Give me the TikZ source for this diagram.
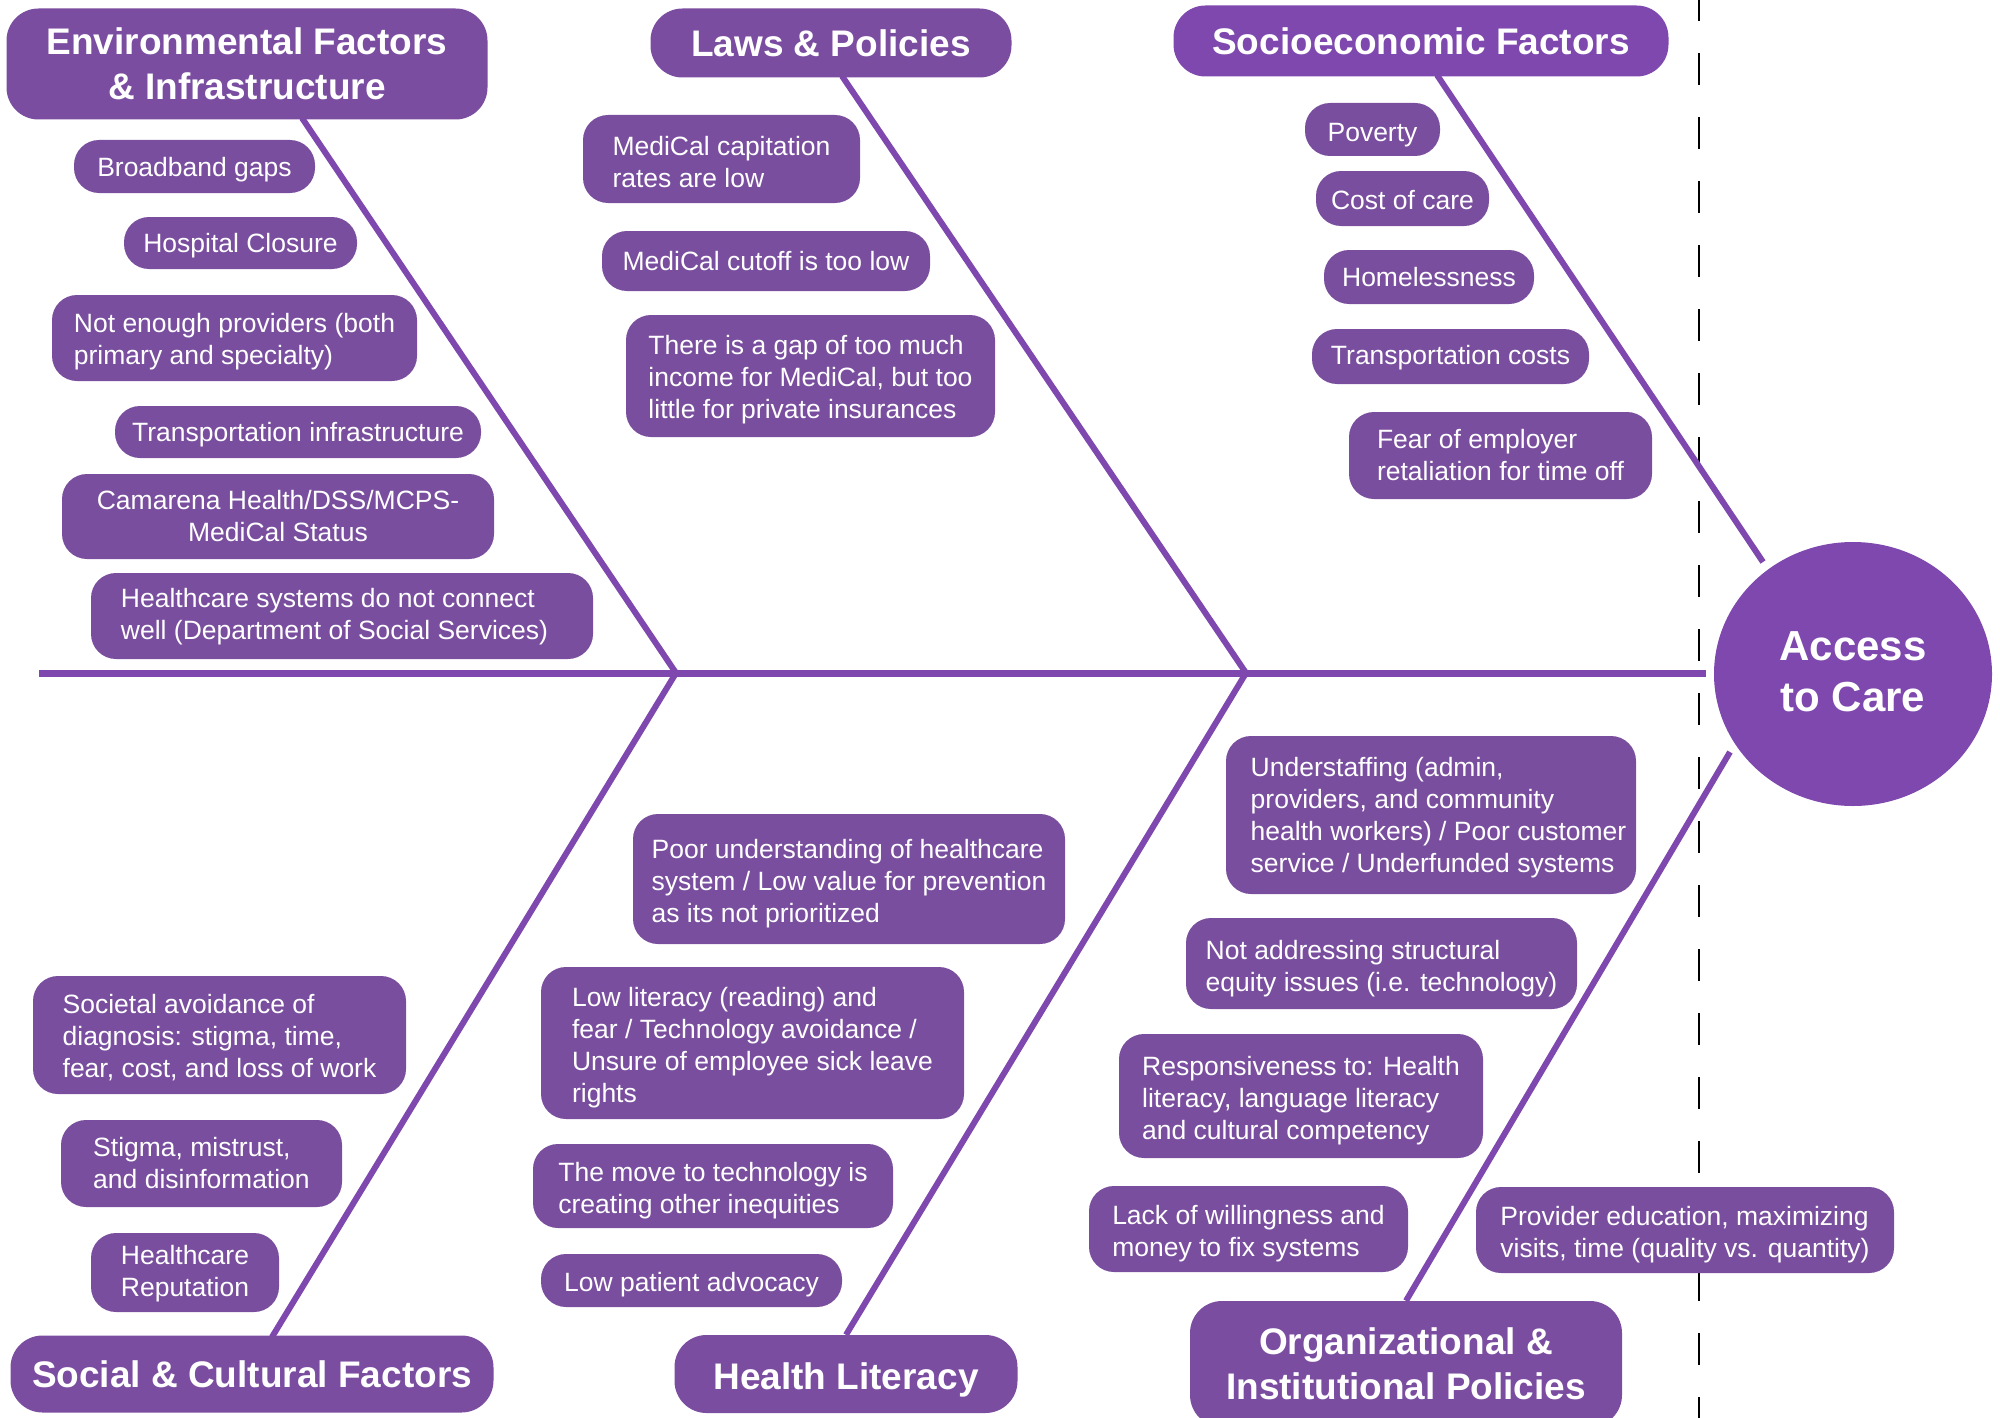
\documentclass[tikz,border=0pt]{standalone}
\usepackage{fontspec}
\setmainfont{Liberation Sans}
\usetikzlibrary{backgrounds,shapes.geometric}
\definecolor{itemc}{HTML}{7A4E9E}
\definecolor{headc}{HTML}{7B4DA1}
\definecolor{linec}{HTML}{7E48AE}
\newcommand\itemfont{\fontsize{26.5}{32}\selectfont}
\newcommand\headfont{\fontsize{37}{45}\selectfont\bfseries}
\newcommand\accfont{\fontsize{42}{51}\selectfont\bfseries}
% lowers the text of a box by #1 pt (strut on the first line)
\newcommand\dn[1]{\rule{0pt}{\dimexpr19.3pt+#1pt*2\relax}}
\newcommand\ind{\hspace*{15pt}}
\begin{document}
\begin{tikzpicture}[x=1pt,y=-1pt,
  sz/.style 2 args={minimum width=#1pt,minimum height=#2pt},
  item/.style={fill=itemc, rounded corners=25pt, text=white, align=left, inner sep=0pt, font=\itemfont},
  head/.style={fill=headc, rounded corners=32pt, text=white, align=center, inner sep=0pt, font=\headfont},
  bone/.style={draw=linec, line width=6pt},
  spine/.style={draw=linec, line width=7pt},
  guide/.style={draw=black, line width=2pt, dash pattern=on 32pt off 32pt}]
\useasboundingbox (0,0) rectangle (2000,1418);

% headers
\node[head, sz={481}{111}] (env) at (247,64) {Environmental Factors\\\& Infrastructure};
\node[head, sz={361}{69}] (laws) at (831,43) {Laws \& Policies};
\node[head, fill=linec, sz={495}{71}] (soc) at (1421,41) {Socioeconomic Factors};
\node[head, sz={483}{77}] (cult) at (252,1374) {Social \& Cultural Factors};
\node[head, sz={343}{78}] (hl) at (846,1374) {\rule{0pt}{39pt}Health Literacy};
\node[head, sz={432}{126}] (org) at (1406,1364) {Organizational \&\\Institutional Policies};
\node[ellipse, fill=linec, text=white, align=center, inner sep=0pt, sz={278}{264}, font=\accfont] (acc) at (1853,674) {Access\\to Care\rule[-5pt]{0pt}{5pt}};

% environmental items
\node[item, sz={241}{53}] (e1) at (194.5,166.5) {\dn{3}Broadband gaps};
\node[item, sz={233}{52}] (e2) at (240.5,243) {\dn{3}Hospital Closure};
\node[item, sz={365}{86}] (e3) at (234.5,338) {\dn{4}Not enough providers (both\\primary and specialty)};
\node[item, sz={366}{52}] (e4) at (298,432) {\dn{3}Transportation infrastructure};
\node[item, align=center, sz={432}{85}] (e5) at (278,516.5) {Camarena Health/DSS/MCPS-\\MediCal Status};
\node[item, sz={502}{86}] (e6) at (342,616) {\dn{1}Healthcare systems do not connect\\well (Department of Social Services)\hspace*{15pt}};

% laws items
\node[item, sz={277}{88}] (l1) at (721.5,159) {\dn{2.5}MediCal capitation\\rates are low};
\node[item, sz={328}{60}] (l2) at (766,261) {MediCal cutoff is too low};
\node[item, sz={369}{122}] (l3) at (810.5,376) {\dn{4}There is a gap of too much\\income for MediCal, but too\\little for private insurances};

% socioeconomic items
\node[item, sz={135}{53}] (s1) at (1372.5,129.5) {\dn{5}Poverty};
\node[item, sz={173}{55}] (s2) at (1402.5,198.5) {\dn{1.5}Cost of care};
\node[item, sz={210}{54}] (s3) at (1429,277) {Homelessness};
\node[item, sz={277}{55}] (s4) at (1450.5,356.5) {\dn{1.5}Transportation costs};
\node[item, sz={303}{87}] (s5) at (1500.5,455.5) {Fear of employer\\retaliation for time off};

% social & cultural items
\node[item, sz={373}{118}] (c1) at (219.5,1035) {\dn{2.5}Societal avoidance of\\diagnosis: stigma, time,\\fear, cost, and loss of work};
\node[item, sz={281}{87}] (c2) at (201.5,1163.5) {Stigma, mistrust,\\and disinformation};
\node[item, sz={188}{79}] (c3) at (185,1272.5) {\dn{1.5}Healthcare\\Reputation};

% health literacy items
\node[item, sz={432}{130}] (h1) at (849,879) {\dn{5}Poor understanding of healthcare\\system / Low value for prevention\\as its not prioritized};
\node[item, sz={423}{152}] (h2) at (752.5,1043) {\dn{5}Low literacy (reading) and\\fear / Technology avoidance /\\Unsure of employee sick leave\\rights};
\node[item, sz={360}{84}] (h3) at (713,1186) {\dn{5}The move to technology is\\creating other inequities};
\node[item, sz={301}{53}] (h4) at (691.5,1280.5) {\dn{4}Low patient advocacy};

% organizational items
\node[item, sz={410}{158}] (o1) at (1431,815) {\dn{2.5}\ind Understaffing (admin,\\\ind providers, and community\\\ind health workers) / Poor customer\\\ind service / Underfunded systems};
\node[item, sz={391}{91}] (o2) at (1381.5,963.5) {\dn{5}Not addressing structural\\equity issues (i.e. technology)};
\node[item, sz={364}{124}] (o3) at (1301,1096) {\dn{5}Responsiveness to: Health\\literacy, language literacy\\and cultural competency};
\node[item, sz={319}{86}] (o4) at (1248.5,1229) {\dn{5}Lack of willingness and\\money to fix systems};
\node[item, sz={418}{86}] (o5) at (1685,1230) {\dn{5}Provider education, maximizing\\visits, time (quality vs. quantity)};

% coordinates
\coordinate (sp0) at (39,673);
\coordinate (sp1) at (1706,673);
\coordinate (j1) at (676,673);
\coordinate (j2) at (1246,673);
\coordinate (eb) at (302,118);
\coordinate (lb) at (842,76);
\coordinate (sb) at (1437,75);
\coordinate (se) at (1763,562);
\coordinate (cb) at (272,1337);
\coordinate (oe) at (1730,752);
\coordinate (gt) at (1699,-11);
\coordinate (gb) at (1699,1430);

\begin{pgfonlayer}{background}
\draw[guide] (gt) -- (gb);
\draw[spine] (sp0) -- (sp1);
\draw[bone] (eb) -- (j1);
\draw[bone] (lb) -- (j2);
\draw[bone] (sb) -- (se);
\draw[bone] (cb) -- (j1);
\draw[bone] (hl.north) -- (j2);
\draw[bone] (org.north) -- (oe);
\end{pgfonlayer}
\end{tikzpicture}
\end{document}
